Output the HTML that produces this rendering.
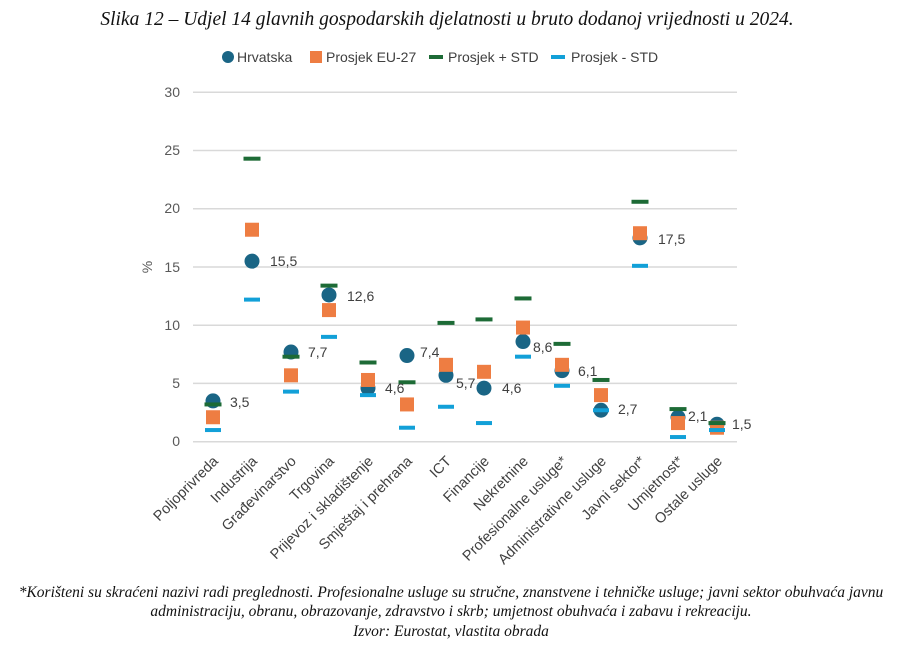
<!DOCTYPE html>
<html><head><meta charset="utf-8"><style>
body{margin:0;background:#fff;}
svg{display:block;}
.t{font-family:"Liberation Serif",serif;font-style:italic;}
.s{font-family:"Liberation Sans",sans-serif;}
</style></head><body>
<svg width="904" height="652" viewBox="0 0 904 652" xmlns="http://www.w3.org/2000/svg">
<text class="t" x="447" y="25" font-size="19.5" text-anchor="middle" fill="#111">Slika 12 – Udjel 14 glavnih gospodarskih djelatnosti u bruto dodanoj vrijednosti u 2024.</text>
<g class="s" font-size="14" fill="#404040">
<circle cx="228" cy="57" r="6" fill="#1a6585"/><text x="237" y="62">Hrvatska</text>
<rect x="310" y="51" width="12" height="12" fill="#ee7d42"/><text x="326" y="62">Prosjek EU-27</text>
<rect x="429" y="55" width="14" height="4" fill="#1d6b36"/><text x="448" y="62">Prosjek + STD</text>
<rect x="551" y="55" width="14" height="4" fill="#12a0d8"/><text x="571" y="62">Prosjek - STD</text>
</g>
<g stroke="#d9d9d9" stroke-width="1.5">
<line x1="193" y1="92.3" x2="737" y2="92.3"/>
<line x1="193" y1="150.5" x2="737" y2="150.5"/>
<line x1="193" y1="208.7" x2="737" y2="208.7"/>
<line x1="193" y1="267" x2="737" y2="267"/>
<line x1="193" y1="325.2" x2="737" y2="325.2"/>
<line x1="193" y1="383.4" x2="737" y2="383.4"/>
<line x1="193" y1="441.7" x2="737" y2="441.7"/>
</g>
<g class="s" font-size="14" fill="#595959" text-anchor="end">
<text x="180" y="97">30</text><text x="180" y="155">25</text><text x="180" y="213">20</text>
<text x="180" y="272">15</text><text x="180" y="330">10</text><text x="180" y="388">5</text><text x="180" y="446">0</text>
</g>
<text class="s" font-size="14" fill="#595959" transform="translate(152,267) rotate(-90)" text-anchor="middle">%</text>
<g id="data"></g>
<g class="s" font-size="14" fill="#404040" id="lbl"></g>
<g class="s" font-size="14.5" fill="#404040" id="xl"></g>
<text class="t" font-size="15.5" fill="#111" text-anchor="middle" x="451" y="597">*Korišteni su skraćeni nazivi radi preglednosti. Profesionalne usluge su stručne, znanstvene i tehničke usluge; javni sektor obuhvaća javnu</text>
<text class="t" font-size="15.5" fill="#111" text-anchor="middle" x="451" y="616">administraciju, obranu, obrazovanje, zdravstvo i skrb; umjetnost obuhvaća i zabavu i rekreaciju.</text>
<text class="t" font-size="15.5" fill="#111" text-anchor="middle" x="451" y="636">Izvor: Eurostat, vlastita obrada</text>
<script>
var xs=[213,252,291,329,368,407,446,484,523,562,601,640,678,717];
var hr=[3.5,15.5,7.7,12.6,4.6,7.4,5.7,4.6,8.6,6.1,2.7,17.5,2.1,1.5];
var eu=[2.1,18.2,5.7,11.3,5.3,3.2,6.6,6.0,9.8,6.6,4.0,17.9,1.6,1.2];
var gp=[3.2,24.3,7.3,13.4,6.8,5.1,10.2,10.5,12.3,8.4,5.3,20.6,2.8,1.6];
var bm=[1.0,12.2,4.3,9.0,4.0,1.2,3.0,1.6,7.3,4.8,2.7,15.1,0.4,1.0];
var names=["Poljoprivreda","Industrija","Građevinarstvo","Trgovina","Prijevoz i skladištenje","Smještaj i prehrana","ICT","Financije","Nekretnine","Profesionalne usluge*","Administrativne usluge","Javni sektor*","Umjetnost*","Ostale usluge"];
var lx=[230,270,308,347,385,420,456,502,533,578,618,658,688,732];
var ly=[407,266,357,301,393,357,388,393,352,376,414,244,421,429];
function Y(v){return 441.7-v*11.647;}
var ns="http://www.w3.org/2000/svg",d=document.getElementById("data"),l=document.getElementById("lbl"),xl=document.getElementById("xl");
function el(p,t,a,txt){var e=document.createElementNS(ns,t);for(var k in a)e.setAttribute(k,a[k]);if(txt)e.textContent=txt;p.appendChild(e);}
for(var i=0;i<14;i++){
el(d,"circle",{cx:xs[i],cy:Y(hr[i]),r:7.5,fill:"#1a6585"});
el(d,"rect",{x:xs[i]-7,y:Y(eu[i])-7,width:14,height:14,fill:"#ee7d42"});
el(d,"rect",{x:xs[i]-8.5,y:Y(gp[i])-2,width:17,height:4,fill:"#1d6b36"});
el(d,"rect",{x:xs[i]-8,y:Y(bm[i])-2,width:16,height:4,fill:"#12a0d8"});
el(l,"text",{x:lx[i],y:ly[i]},hr[i].toFixed(1).replace(".",","));
el(xl,"text",{"text-anchor":"end",transform:"translate("+(xs[i]+6)+",462) rotate(-45)"},names[i]);
}
</script>
</svg>
</body></html>
